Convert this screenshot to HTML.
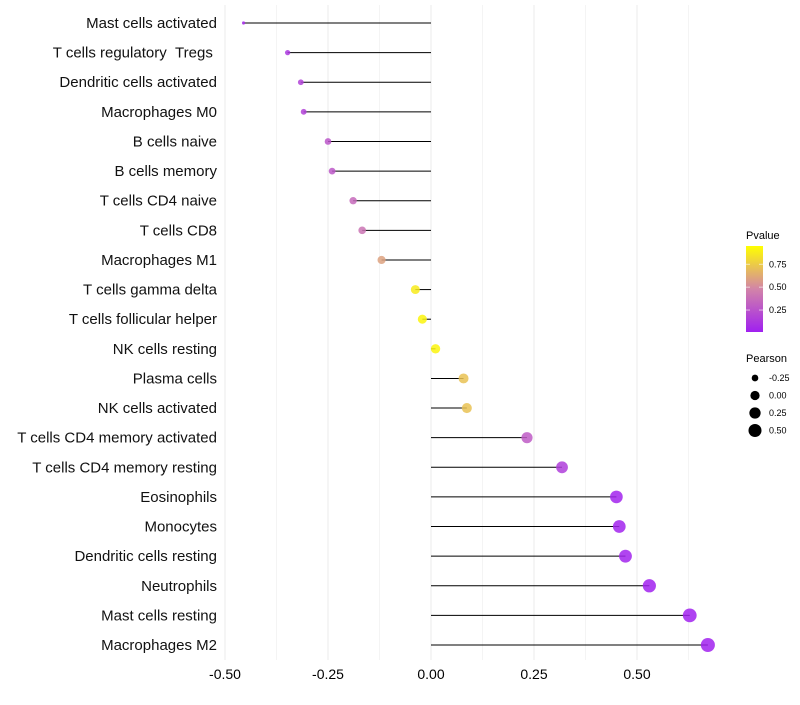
<!DOCTYPE html>
<html><head><meta charset="utf-8"><style>
body{margin:0;background:#fff;font-family:"Liberation Sans",sans-serif}
</style></head><body>
<svg id="c" width="800" height="700" xmlns="http://www.w3.org/2000/svg">
<defs><linearGradient id="pg" x1="0" y1="1" x2="0" y2="0">
<stop offset="0" stop-color="#a020f0"/><stop offset="0.5" stop-color="#d284a8"/><stop offset="1" stop-color="#ffff00"/></linearGradient></defs>
</svg>
<script>
const categories=["Mast cells activated","T cells regulatory\u00a0\u00a0Tregs\u00a0","Dendritic cells activated","Macrophages M0","B cells naive","B cells memory","T cells CD4 naive","T cells CD8","Macrophages M1","T cells gamma delta","T cells follicular helper","NK cells resting","Plasma cells","NK cells activated","T cells CD4 memory activated","T cells CD4 memory resting","Eosinophils","Monocytes","Dendritic cells resting","Neutrophils","Mast cells resting","Macrophages M2"];
const pearson=[-0.455,-0.348,-0.316,-0.309,-0.25,-0.24,-0.189,-0.167,-0.12,-0.038,-0.021,0.011,0.079,0.087,0.233,0.318,0.45,0.457,0.472,0.53,0.628,0.672];
const pvalue=[0.05,0.12,0.17,0.17,0.27,0.28,0.37,0.42,0.62,0.92,0.96,0.96,0.75,0.75,0.3,0.15,0.02,0.02,0.02,0.01,0.01,0.01];
const xTicks=[-0.5,-0.25,0,0.25,0.5];
const xTickLabels=["-0.50","-0.25","0.00","0.25","0.50"];
const pTicks=[0.25,0.5,0.75];
const sizeLegend=[-0.25,0,0.25,0.5];
const sizeLabels=["-0.25","0.00","0.25","0.50"];

const svg=document.getElementById('c');const NS="http://www.w3.org/2000/svg";
function mk(t,a,p){const e=document.createElementNS(NS,t);for(const k in a)e.setAttribute(k,a[k]);(p||svg).appendChild(e);return e;}
const x=v=>431+v*412;
const y=i=>23+i*29.62;
const pmin=-0.455,pmax=0.672;
const r=v=>Math.sqrt(2.5+(v-pmin)/(pmax-pmin)*47);
function lerp(a,b,t){return a.map((v,i)=>Math.round(v+(b[i]-v)*t));}
function col(p){const s=[[160,32,240],[210,132,168],[255,255,0]];const c=p<0.5?lerp(s[0],s[1],p/0.5):lerp(s[1],s[2],(p-0.5)/0.5);return `rgb(${c})`;}
const gy=mk('g',{});


for(let v=-0.5;v<=0.63;v+=0.125){mk('line',{x1:x(v),x2:x(v),y1:5,y2:660,stroke:Math.abs((v*4)%1)<1e-6?'#ebebeb':'#f4f4f4','stroke-width':1},gy);}
xTicks.forEach((v,i)=>{const t=mk('text',{x:x(v),y:679,'text-anchor':'middle','font-size':14,fill:'#000'});t.textContent=xTickLabels[i];

});
categories.forEach((c,i)=>{
const t=mk('text',{x:217,y:y(i)+5,'text-anchor':'end','font-size':15,fill:'#111'});t.textContent=c;


const l=mk('line',{x1:x(0),x2:x(pearson[i]),y1:y(i),y2:y(i),stroke:'#000','stroke-width':1});


const d=mk('circle',{cx:x(pearson[i]),cy:y(i),r:r(pearson[i]),fill:col(pvalue[i]),'fill-opacity':0.85});


});
let t=mk('text',{x:746,y:239,'font-size':11});t.textContent='Pvalue';


const cb=mk('rect',{x:746,y:246,width:17,height:86,fill:'url(#pg)'});


const py=p=>332-(p-0.01)/(0.95-0.01)*86;
pTicks.forEach(p=>{mk('line',{x1:746,x2:750,y1:py(p),y2:py(p),stroke:'#fff','stroke-opacity':0.6});mk('line',{x1:759,x2:763,y1:py(p),y2:py(p),stroke:'#fff','stroke-opacity':0.6});
const tt=mk('text',{x:769,y:py(p)+3,'font-size':9});tt.textContent=p.toFixed(2);

});
t=mk('text',{x:746,y:362,'font-size':11});t.textContent='Pearson';


sizeLegend.forEach((v,i)=>{const cy=378+i*17.5;
const c=mk('circle',{cx:755,cy:cy,r:r(v),fill:'#000'});


const tt=mk('text',{x:769,y:cy+3,'font-size':9});tt.textContent=sizeLabels[i];

});
</script>
</body></html>
